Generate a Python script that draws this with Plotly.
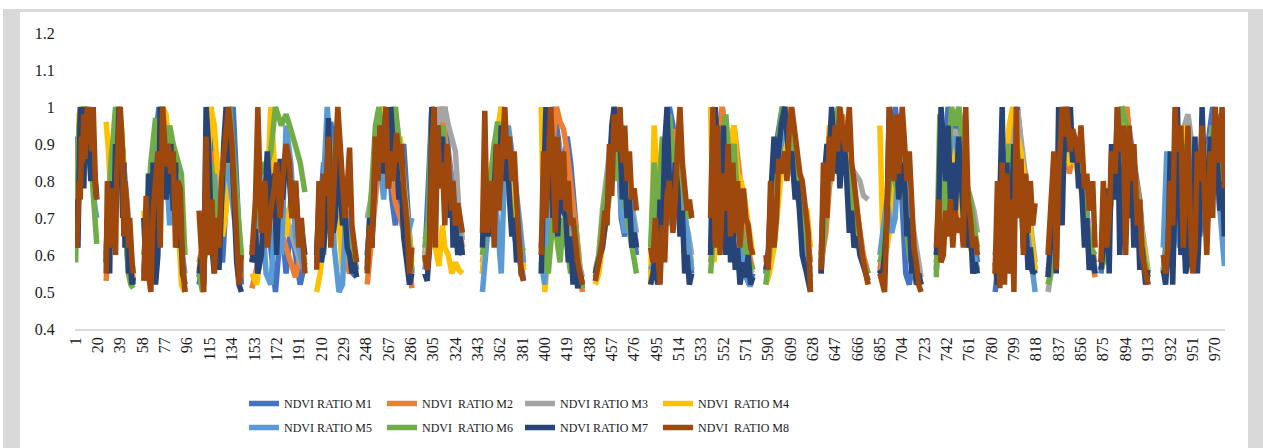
import numpy as np
import plotly.graph_objects as go

# ---- data (values in hundredths of the NDVI ratio) ----
seg_start = [1, 27, 59, 106, 151, 206, 249, 298, 347, 397, 443, 490, 541, 588, 635, 685, 733, 783, 828, 873, 926]
seg_end = [19, 50, 94, 142, 196, 240, 287, 330, 382, 432, 478, 525, 577, 626, 675, 720, 768, 817, 868, 913, 978]
n_categories = 978
tick_vals = list(range(1, 971, 19))
y_ticks = [0.4, 0.5, 0.6, 0.7, 0.8, 0.9, 1.0, 1.1, 1.2]
y_tick_text = ["0.4", "0.5", "0.6", "0.7", "0.8", "0.9", "1", "1.1", "1.2"]

series_names = ["NDVI RATIO M1", "NDVI\u00a0 RATIO M2", "NDVI RATIO M3", "NDVI\u00a0 RATIO M4",
                "NDVI RATIO M5", "NDVI\u00a0 RATIO M6", "NDVI RATIO M7", "NDVI\u00a0 RATIO M8"]
colors = ["#4472C4", "#ED7D31", "#A5A5A5", "#FFC000", "#5B9BD5", "#70AD47", "#264478", "#9E480E"]

m1 = [
    [92, 70, 85, 98, 100, 95, 88, 100, 92, 85, 80, 76],
    [60, 72, 80, 88, 95, 100, 92, 85, 75, 66, 58, 52],
    [55, 68, 80, 92, 100, 96, 88, 82, 75, 68, 58, 50],
    [52, 58, 65, 100, 90, 62, 58, 75, 95, 100, 70, 52],
    [58, 65, 72, 80, 62, 50, 70, 55, 68, 60, 52, 58],
    [60, 72, 85, 70, 96, 88, 75, 66, 60, 58, 55, 54],
    [60, 70, 82, 95, 100, 92, 75, 68, 85, 90, 70, 55],
    [58, 80, 100, 92, 85, 95, 100, 88, 80, 72, 65, 60],
    [55, 65, 75, 85, 92, 98, 95, 88, 82, 70, 60, 53],
    [62, 75, 90, 100, 95, 88, 82, 92, 85, 70, 58, 52],
    [53, 58, 65, 72, 85, 100, 95, 70, 65, 75, 68, 60],
    [55, 62, 70, 78, 88, 100, 95, 85, 80, 72, 60, 55],
    [60, 75, 92, 100, 85, 80, 75, 68, 62, 55, 52, 55],
    [55, 62, 80, 92, 100, 95, 88, 82, 75, 68, 60, 52],
    [55, 70, 85, 95, 100, 92, 88, 80, 72, 65, 58, 55],
    [55, 60, 65, 88, 100, 92, 70, 55, 52, 60, 55, 52],
    [56, 70, 85, 100, 95, 90, 100, 92, 80, 72, 65, 58],
    [50, 58, 65, 75, 85, 95, 100, 90, 80, 70, 60, 55],
    [55, 62, 75, 90, 100, 95, 88, 85, 80, 72, 62, 55],
    [55, 65, 75, 85, 95, 100, 98, 92, 85, 75, 62, 52],
    [56, 65, 72, 80, 70, 88, 95, 85, 75, 65, 78, 90, 100, 95, 85, 75],
]
m2 = [
    [75, 72, 85, 92, 100, 95, 90, 88, 85, 80, 77, 76],
    [53, 62, 72, 80, 90, 98, 92, 85, 75, 66, 58, 53],
    [56, 62, 72, 82, 92, 88, 84, 80, 76, 70, 60, 50],
    [58, 62, 68, 75, 88, 80, 72, 78, 86, 80, 66, 54],
    [51, 56, 62, 70, 78, 72, 66, 62, 58, 54, 60, 56],
    [60, 78, 70, 66, 80, 74, 68, 62, 58, 55, 60, 56],
    [52, 62, 75, 85, 92, 88, 80, 74, 70, 66, 62, 51],
    [65, 62, 72, 85, 95, 100, 92, 86, 80, 74, 68, 62],
    [58, 62, 72, 82, 92, 100, 94, 86, 78, 70, 62, 56],
    [56, 66, 78, 90, 100, 96, 94, 88, 80, 70, 60, 50],
    [54, 58, 64, 72, 82, 92, 98, 90, 86, 80, 70, 62],
    [56, 60, 68, 76, 84, 90, 94, 86, 78, 70, 62, 56],
    [58, 66, 84, 100, 92, 88, 95, 86, 80, 70, 60, 56],
    [58, 62, 70, 80, 92, 100, 96, 90, 82, 74, 66, 58],
    [58, 66, 78, 88, 94, 98, 90, 84, 76, 68, 60, 55],
    [56, 62, 68, 66, 76, 86, 92, 82, 72, 62, 56, 52],
    [58, 66, 76, 86, 92, 88, 84, 78, 72, 66, 60, 56],
    [55, 60, 68, 78, 86, 92, 96, 88, 80, 72, 62, 56],
    [54, 62, 72, 84, 92, 82, 88, 84, 76, 68, 60, 54],
    [56, 62, 70, 80, 88, 96, 100, 90, 82, 74, 60, 54],
    [56, 60, 66, 74, 82, 90, 86, 80, 74, 70, 76, 84, 92, 96, 90, 84],
]
m3 = [
    [70, 78, 88, 95, 100, 98, 92, 88, 85, 80, 76, 75],
    [60, 68, 78, 88, 96, 100, 92, 85, 78, 72, 62, 55],
    [56, 64, 75, 88, 95, 92, 88, 84, 78, 70, 60, 52],
    [54, 58, 64, 72, 80, 70, 75, 85, 92, 82, 66, 56],
    [58, 64, 70, 78, 85, 80, 75, 70, 66, 62, 58, 56],
    [60, 66, 72, 78, 85, 80, 72, 66, 62, 58, 56, 55],
    [70, 75, 85, 92, 98, 95, 88, 82, 85, 78, 68, 60],
    [60, 68, 80, 92, 100, 96, 100, 95, 92, 88, 72, 64],
    [58, 64, 72, 80, 88, 95, 90, 85, 78, 70, 62, 56],
    [60, 68, 75, 85, 92, 88, 82, 76, 70, 64, 58, 54],
    [56, 60, 72, 82, 92, 98, 95, 90, 85, 80, 72, 66],
    [55, 60, 68, 78, 84, 80, 88, 82, 76, 70, 66, 60],
    [60, 68, 78, 86, 90, 85, 80, 74, 68, 62, 56, 55],
    [55, 62, 72, 80, 88, 92, 86, 80, 74, 68, 62, 56],
    [62, 72, 82, 90, 95, 92, 88, 84, 82, 80, 76, 75],
    [58, 62, 68, 76, 84, 90, 86, 80, 72, 64, 58, 54],
    [60, 68, 76, 84, 90, 94, 88, 82, 80, 76, 72, 66],
    [56, 62, 70, 80, 88, 95, 99, 92, 84, 76, 66, 58],
    [50, 58, 68, 80, 90, 92, 88, 84, 78, 70, 62, 56],
    [58, 64, 72, 80, 88, 92, 90, 84, 78, 72, 64, 56],
    [56, 62, 70, 80, 88, 94, 98, 90, 82, 76, 70, 78, 90, 98, 92, 84],
]
m4 = [
    [77, 85, 98, 100, 92, 88, 95, 100, 90, 82, 78, 76],
    [96, 88, 75, 85, 98, 100, 95, 82, 70, 62, 58, 55],
    [72, 60, 70, 82, 95, 100, 98, 85, 80, 70, 52, 50],
    [56, 62, 78, 100, 95, 80, 65, 72, 90, 85, 68, 60],
    [55, 52, 62, 70, 100, 80, 72, 65, 75, 68, 62, 58],
    [50, 55, 65, 72, 82, 75, 68, 56, 62, 60, 56, 55],
    [60, 72, 85, 95, 100, 90, 82, 88, 92, 80, 68, 58],
    [58, 65, 75, 62, 57, 68, 62, 60, 55, 58, 56, 55],
    [55, 65, 80, 88, 95, 100, 92, 85, 78, 70, 62, 56],
    [100, 50, 60, 82, 90, 75, 72, 68, 62, 58, 55, 52],
    [52, 55, 62, 70, 78, 85, 92, 88, 82, 75, 68, 62],
    [52, 95, 80, 72, 68, 75, 82, 80, 72, 68, 62, 58],
    [100, 58, 92, 88, 85, 90, 95, 82, 80, 75, 65, 60],
    [52, 55, 62, 72, 85, 95, 92, 88, 80, 74, 72, 62],
    [60, 75, 95, 85, 82, 92, 88, 80, 72, 65, 58, 52],
    [95, 58, 62, 70, 85, 90, 82, 75, 66, 58, 54, 52],
    [60, 68, 75, 82, 90, 85, 78, 70, 66, 62, 58, 56],
    [55, 62, 90, 85, 95, 100, 92, 88, 80, 72, 62, 56],
    [55, 60, 70, 82, 88, 85, 86, 82, 78, 70, 64, 58],
    [56, 62, 72, 80, 88, 100, 95, 86, 78, 70, 62, 55],
    [55, 60, 66, 72, 80, 95, 85, 75, 68, 72, 80, 86, 95, 90, 88, 92],
]
m5 = [
    [65, 72, 80, 92, 100, 88, 85, 95, 90, 80, 74, 70],
    [58, 65, 78, 88, 96, 90, 85, 72, 62, 56, 53, 52],
    [55, 62, 75, 88, 95, 100, 85, 68, 80, 72, 62, 55],
    [54, 58, 62, 70, 82, 66, 78, 85, 80, 72, 62, 55],
    [62, 68, 75, 55, 52, 70, 60, 95, 85, 65, 60, 55],
    [58, 72, 80, 100, 88, 62, 50, 52, 72, 66, 60, 56],
    [60, 70, 82, 88, 75, 90, 100, 85, 80, 72, 66, 70],
    [56, 62, 100, 88, 82, 92, 78, 85, 80, 72, 66, 60],
    [50, 62, 72, 80, 65, 55, 85, 95, 88, 78, 68, 58],
    [58, 52, 70, 85, 92, 88, 80, 75, 70, 62, 56, 51],
    [54, 58, 66, 72, 80, 88, 95, 72, 66, 75, 70, 62],
    [56, 58, 66, 72, 80, 68, 75, 88, 82, 72, 62, 56],
    [62, 75, 85, 92, 82, 78, 70, 68, 62, 56, 52, 52],
    [55, 62, 72, 85, 92, 96, 90, 82, 75, 68, 62, 54],
    [60, 72, 85, 92, 98, 90, 82, 75, 70, 65, 58, 55],
    [60, 68, 75, 66, 70, 88, 82, 76, 68, 60, 55, 52],
    [58, 65, 72, 85, 90, 92, 85, 80, 72, 68, 60, 56],
    [60, 68, 72, 80, 88, 85, 80, 75, 70, 65, 58, 50],
    [56, 62, 70, 82, 90, 88, 92, 85, 78, 70, 62, 58],
    [58, 65, 72, 82, 88, 90, 85, 80, 72, 66, 60, 54],
    [62, 88, 75, 70, 62, 80, 72, 85, 66, 78, 90, 82, 95, 85, 70, 57],
]
m6 = [
    [58, 82, 95, 100, 80, 88, 100, 95, 85, 75, 68, 63],
    [62, 75, 85, 92, 100, 95, 80, 70, 62, 55, 52, 51],
    [60, 70, 85, 97, 88, 92, 85, 95, 90, 86, 82, 60],
    [55, 50, 70, 85, 75, 68, 80, 90, 100, 88, 72, 60],
    [60, 75, 85, 82, 88, 100, 95, 98, 94, 90, 85, 77],
    [62, 70, 60, 85, 90, 82, 75, 72, 66, 62, 58, 56],
    [58, 75, 95, 100, 90, 82, 95, 100, 88, 78, 65, 56],
    [62, 70, 100, 90, 85, 95, 88, 80, 75, 70, 62, 60],
    [60, 68, 78, 90, 96, 85, 92, 80, 70, 62, 60, 62],
    [55, 62, 55, 70, 65, 58, 70, 62, 55, 68, 56, 51],
    [55, 60, 70, 80, 88, 94, 80, 86, 74, 66, 60, 55],
    [62, 85, 70, 92, 78, 98, 85, 90, 82, 75, 70, 72],
    [55, 68, 80, 92, 98, 85, 90, 75, 68, 62, 58, 56],
    [52, 60, 75, 90, 100, 98, 92, 85, 78, 72, 65, 58],
    [58, 70, 82, 96, 100, 92, 85, 78, 70, 62, 58, 55],
    [58, 62, 72, 85, 80, 75, 88, 70, 60, 55, 52, 53],
    [54, 98, 65, 82, 100, 95, 100, 92, 80, 75, 68, 62],
    [55, 62, 75, 85, 90, 80, 88, 75, 68, 60, 56, 55],
    [52, 58, 68, 85, 100, 92, 88, 85, 78, 70, 62, 60],
    [56, 60, 75, 85, 92, 100, 95, 88, 80, 72, 60, 54],
    [55, 62, 70, 85, 78, 90, 72, 65, 80, 88, 75, 85, 95, 90, 82, 78],
]
m7 = [
    [68, 75, 62, 90, 100, 85, 95, 78, 100, 88, 92, 85, 80, 90, 85, 80, 76, 75],
    [58, 70, 55, 80, 62, 75, 90, 82, 100, 95, 70, 85, 62, 70, 55, 60, 52, 54],
    [70, 55, 82, 60, 85, 52, 60, 100, 95, 75, 80, 90, 72, 85, 62, 70, 55, 52],
    [55, 60, 52, 100, 90, 62, 55, 70, 56, 75, 90, 100, 85, 88, 70, 58, 52, 50],
    [58, 67, 55, 60, 75, 88, 70, 82, 60, 86, 75, 88, 80, 70, 80, 63, 68, 60],
    [60, 75, 58, 62, 70, 97, 75, 66, 70, 92, 80, 68, 72, 62, 60, 55, 58, 54],
    [56, 70, 62, 86, 80, 95, 82, 100, 78, 100, 90, 85, 75, 80, 65, 58, 52, 55],
    [55, 53, 62, 100, 88, 72, 95, 85, 92, 80, 88, 70, 78, 62, 70, 60, 65, 60],
    [62, 82, 65, 72, 65, 80, 90, 75, 95, 80, 88, 75, 65, 70, 58, 62, 55, 55],
    [55, 80, 100, 75, 90, 70, 85, 65, 80, 72, 70, 58, 65, 52, 60, 51, 55, 52],
    [55, 58, 60, 62, 66, 72, 80, 95, 100, 88, 92, 75, 82, 70, 75, 62, 66, 62],
    [52, 55, 60, 52, 75, 65, 90, 100, 80, 70, 85, 78, 65, 72, 55, 60, 52, 55],
    [60, 90, 100, 85, 72, 95, 60, 82, 58, 70, 56, 62, 52, 58, 54, 60, 52, 54],
    [56, 60, 75, 92, 82, 88, 95, 100, 90, 85, 88, 75, 80, 68, 60, 56, 52, 50],
    [55, 78, 90, 88, 100, 82, 95, 78, 92, 85, 66, 72, 62, 65, 60, 58, 55, 53],
    [56, 54, 60, 70, 100, 90, 85, 92, 75, 85, 80, 65, 70, 55, 60, 52, 55, 52],
    [60, 72, 100, 90, 80, 95, 75, 85, 70, 92, 80, 70, 75, 62, 68, 55, 58, 55],
    [58, 52, 75, 100, 62, 85, 55, 72, 90, 80, 70, 78, 62, 70, 56, 62, 55, 56],
    [54, 62, 78, 55, 100, 68, 95, 88, 100, 85, 90, 78, 82, 62, 70, 56, 60, 55],
    [56, 62, 78, 55, 90, 75, 100, 60, 82, 90, 70, 85, 62, 75, 56, 62, 52, 56],
    [56, 52, 62, 88, 52, 75, 100, 60, 70, 55, 58, 80, 65, 92, 55, 70, 100, 80, 65, 92, 75, 100, 85, 72, 80, 65],
]
m8 = [
    [66, 62, 70, 80, 75, 92, 85, 98, 86, 100, 90, 100, 93, 88, 100, 85, 78, 75],
    [55, 80, 62, 78, 66, 75, 60, 82, 95, 100, 88, 65, 80, 72, 62, 70, 58, 55],
    [53, 76, 55, 50, 72, 80, 88, 62, 100, 84, 90, 82, 88, 62, 80, 78, 58, 50],
    [72, 58, 50, 92, 60, 75, 55, 70, 62, 80, 88, 95, 100, 90, 75, 60, 52, 60],
    [60, 75, 100, 66, 80, 62, 72, 78, 85, 70, 80, 90, 85, 70, 80, 62, 70, 55],
    [56, 80, 62, 82, 76, 92, 62, 75, 85, 100, 90, 80, 70, 78, 89, 68, 62, 58],
    [55, 68, 62, 92, 80, 95, 85, 100, 78, 88, 80, 93, 85, 90, 78, 68, 55, 62],
    [60, 56, 62, 90, 100, 62, 95, 78, 85, 68, 90, 82, 72, 80, 68, 74, 70, 66],
    [66, 99, 66, 72, 80, 62, 90, 72, 85, 100, 86, 92, 80, 88, 75, 62, 55, 53],
    [60, 88, 70, 82, 100, 86, 66, 92, 75, 88, 72, 80, 68, 70, 62, 58, 55, 52],
    [53, 56, 60, 64, 72, 68, 90, 76, 98, 88, 100, 85, 95, 80, 88, 75, 78, 72],
    [62, 58, 70, 62, 52, 68, 58, 76, 80, 66, 75, 90, 100, 85, 78, 72, 75, 70],
    [70, 100, 62, 95, 60, 82, 72, 90, 65, 85, 66, 80, 62, 78, 70, 68, 62, 60],
    [60, 56, 80, 62, 70, 86, 82, 88, 80, 95, 100, 92, 86, 82, 80, 70, 66, 50],
    [56, 85, 70, 92, 80, 95, 88, 100, 92, 88, 100, 85, 80, 72, 65, 60, 55, 52],
    [55, 52, 50, 70, 100, 92, 80, 98, 82, 100, 88, 80, 88, 70, 62, 58, 52, 50],
    [62, 75, 58, 60, 72, 65, 75, 62, 72, 66, 70, 62, 100, 75, 70, 62, 65, 60],
    [55, 80, 51, 85, 52, 82, 55, 75, 50, 100, 70, 86, 60, 82, 66, 80, 68, 74],
    [60, 72, 88, 56, 80, 100, 92, 100, 88, 94, 90, 85, 95, 78, 82, 72, 80, 62],
    [58, 80, 62, 70, 88, 82, 100, 88, 95, 60, 95, 80, 90, 68, 75, 60, 55, 52],
    [60, 55, 62, 80, 68, 100, 88, 95, 62, 80, 95, 70, 55, 62, 88, 80, 95, 76, 60, 88, 70, 100, 92, 85, 100, 78],
]
all_series = [m1, m2, m3, m4, m5, m6, m7, m8]


def build(segments):
    xs, ys = [], []
    for s, e, vals in zip(seg_start, seg_end, segments):
        pos = np.rint(np.linspace(s, e, len(vals))).astype(int).tolist()
        xs.extend(pos)
        ys.extend([v / 100 for v in vals])
        xs.append(e + 1)
        ys.append(None)
    return xs, ys


fig = go.Figure()
for i, (name, col, segs) in enumerate(zip(series_names, colors, all_series)):
    xs, ys = build(segs)
    fig.add_trace(go.Scatter(x=xs, y=ys, mode="lines", name=name,
                             legend="legend" if i < 4 else "legend2",
                             line=dict(color=col, width=5.5), connectgaps=False))

W, H = 1263, 448
ml, mr, mt, mb = 75, 38, 33, 119
pw, ph = W - ml - mr, H - mt - mb


def px_x(p):
    return (p - ml) / pw


def px_y(p):
    return (H - mb - p) / ph


frame = "#d9d9d9"
shapes = [
    dict(type="rect", xref="paper", yref="paper", x0=px_x(3), x1=px_x(20), y0=px_y(448), y1=px_y(9),
         fillcolor=frame, line=dict(width=0), layer="below"),
    dict(type="rect", xref="paper", yref="paper", x0=px_x(1248), x1=px_x(1263), y0=px_y(448), y1=px_y(9),
         fillcolor=frame, line=dict(width=0), layer="below"),
    dict(type="rect", xref="paper", yref="paper", x0=px_x(3), x1=px_x(1263), y0=px_y(12), y1=px_y(9),
         fillcolor=frame, line=dict(width=0), layer="below"),
]

font_fam = "Liberation Serif, Times New Roman, serif"
legend_common = dict(orientation="h", xanchor="left", yanchor="top",
                     font=dict(family=font_fam, size=12, color="#1a1a1a"),
                     entrywidth=93, entrywidthmode="pixels", traceorder="normal",
                     bgcolor="rgba(0,0,0,0)")
fig.update_layout(
    width=W, height=H,
    margin=dict(l=ml, r=mr, t=mt, b=mb, autoexpand=False),
    paper_bgcolor="white", plot_bgcolor="white",
    font=dict(family=font_fam, size=16, color="#1a1a1a"),
    shapes=shapes,
    showlegend=True,
    legend=dict(x=px_x(244), y=px_y(389), **legend_common),
    legend2=dict(x=px_x(244), y=px_y(413), **legend_common),
)
fig.update_xaxes(range=[0.5, n_categories + 0.5], tickmode="array", tickvals=tick_vals,
                 ticktext=[str(v) for v in tick_vals], tickangle=-90, showgrid=False, zeroline=False,
                 showline=True, linecolor="#d9d9d9", linewidth=1.5, ticks="",
                 tickfont=dict(family=font_fam, size=16, color="#1a1a1a"))
fig.update_yaxes(range=[0.4, 1.2], tickmode="array", tickvals=y_ticks, ticktext=y_tick_text,
                 showgrid=False, zeroline=False, showline=False, ticks="outside", ticklen=16,
                 tickcolor="rgba(0,0,0,0)", tickfont=dict(family=font_fam, size=16, color="#1a1a1a"))

fig.write_html("out.html", config={"displayModeBar": False},
               post_script="document.body.style.margin='0px';")
